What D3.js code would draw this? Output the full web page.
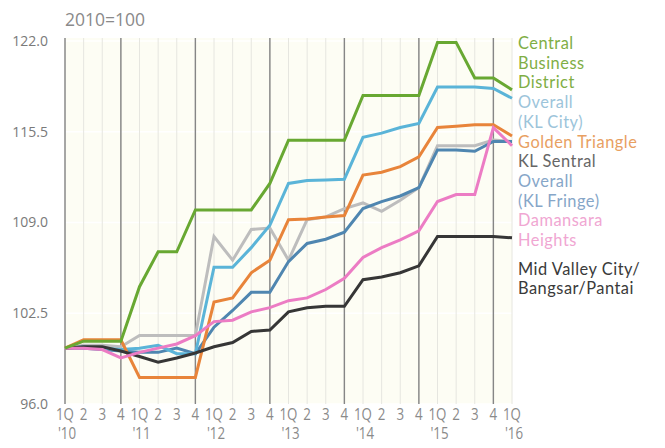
<!DOCTYPE html>
<html>
<head>
<meta charset="utf-8">
<script src="https://cdn.jsdelivr.net/npm/d3@7"></script>
<style>
  html, body { margin: 0; padding: 0; background: #fff; }
  svg { display: block; font-family: "Open Sans", "Noto Sans", sans-serif; }
</style>
</head>
<body>
<svg id="chart" width="665" height="448"></svg>
<script>
// Quarterly index, 2010 = 100, 1Q'10 to 1Q'16
const quarterLabels = ["1Q","2","3","4","1Q","2","3","4","1Q","2","3","4","1Q","2","3","4","1Q","2","3","4","1Q","2","3","4","1Q"];
const yearLabels = ["'10","'11","'12","'13","'14","'15","'16"];
const yTicks = [96.0, 102.5, 109.0, 115.5, 122.0];

const centralBusinessDistrict = [100,100.5,100.5,100.5,104.4,106.9,106.9,109.9,109.9,109.9,109.9,111.8,114.9,114.9,114.9,114.9,118.1,118.1,118.1,118.1,121.9,121.9,119.35,119.35,118.5];
const overallKLCity = [100,100.1,100.0,99.9,100.0,100.2,99.6,99.6,105.8,105.8,107.2,108.8,111.8,112.0,112.05,112.1,115.1,115.4,115.8,116.1,118.7,118.7,118.7,118.6,117.9];
const goldenTriangle = [100,100.6,100.6,100.6,97.9,97.9,97.9,97.9,103.3,103.6,105.4,106.3,109.2,109.25,109.4,109.5,112.4,112.6,113.0,113.7,115.8,115.9,116.0,116.0,115.2];
const klSentral = [100,100.2,100.2,100.1,100.9,100.9,100.9,100.9,108.0,106.3,108.5,108.6,106.3,109.2,109.4,110.0,110.4,109.8,110.6,111.5,114.5,114.5,114.5,114.9,114.8];
const overallKLFringe = [100,100.0,99.9,99.8,99.7,99.7,100.0,99.6,101.5,102.7,104.0,104.0,106.2,107.5,107.8,108.3,110.0,110.5,110.9,111.5,114.2,114.2,114.1,114.8,114.8];
const damansaraHeights = [100,100,99.9,99.3,99.7,100.0,100.3,100.9,101.9,102.0,102.6,102.9,103.4,103.6,104.2,105.0,106.5,107.2,107.75,108.4,110.5,111.0,111.0,115.8,114.5];
const midValley = [100,100.1,100.1,99.8,99.4,99.0,99.3,99.65,100.1,100.4,101.2,101.3,102.6,102.9,103.0,103.0,104.9,105.1,105.4,105.9,108.0,108.0,108.0,108.0,107.9];

// Series in drawing order (last drawn on top)
const series = [
  { values: klSentral,               line: "#bdbdbd" },
  { values: overallKLFringe,         line: "#4f86b0" },
  { values: overallKLCity,           line: "#5ab4d8" },
  { values: goldenTriangle,          line: "#e8843a" },
  { values: midValley,               line: "#363636" },
  { values: damansaraHeights,        line: "#ec7cc4" },
  { values: centralBusinessDistrict, line: "#68a832" }
];

// Legend entries, top to bottom
const legend = [
  { lines: ["Central", "Business", "District"], color: "#7fae45" },
  { lines: ["Overall", "(KL City)"],            color: "#9cc4da" },
  { lines: ["Golden Triangle"],                 color: "#e8a062" },
  { lines: ["KL Sentral"],                      color: "#666666" },
  { lines: ["Overall", "(KL Fringe)"],          color: "#86a6c8" },
  { lines: ["Damansara", "Heights"],            color: "#f0a6d2" },
  { lines: ["Mid Valley City/", "Bangsar/Pantai"], color: "#3a3a3a", gap: 9 }
];

const svg = d3.select("#chart");
const idx = d3.range(quarterLabels.length);

const x = d3.scaleLinear().domain([0, quarterLabels.length - 1]).range([65, 512]);
const y = d3.scaleLinear().domain([96, 122]).range([404, 41]);

// plot background
svg.append("rect")
  .attr("x", x(0)).attr("y", y(122) - 3)
  .attr("width", x(24) - x(0)).attr("height", y(96) - y(122) + 3)
  .attr("fill", "#fdfdf4");

// horizontal white grid at tick values
svg.append("g").selectAll("line").data(yTicks).join("line")
  .attr("x1", x(0)).attr("x2", x(24))
  .attr("y1", d => y(d)).attr("y2", d => y(d))
  .attr("stroke", "#ffffff").attr("stroke-width", 1.5);

// light quarter lines
svg.append("g").selectAll("line").data(idx).join("line")
  .attr("x1", d => x(d)).attr("x2", d => x(d))
  .attr("y1", y(122) - 3).attr("y2", y(96))
  .attr("stroke", "#e6e6e0").attr("stroke-width", 1);

// darker lines at the start and at every fourth quarter
const majors = idx.filter(i => i === 0 || (i % 4 === 3));
svg.append("g").selectAll("line").data(majors).join("line")
  .attr("x1", d => x(d)).attr("x2", d => x(d))
  .attr("y1", y(122) - 3).attr("y2", y(96))
  .attr("stroke", "#868686").attr("stroke-width", 1.4);

// y axis labels
const yAxis = d3.axisLeft(y).tickValues(yTicks).tickFormat(d3.format(".1f")).tickSize(0).tickPadding(17);
const gy = svg.append("g").attr("transform", `translate(${x(0)},0)`).call(yAxis);
gy.select(".domain").remove();
gy.selectAll("text").attr("fill", "#7a7a7a").attr("font-size", 14).attr("font-family", "Open Sans, sans-serif");

// x axis labels: quarter row and year row
const gx = svg.append("g");
gx.selectAll("text.q").data(idx).join("text")
  .attr("class", "q")
  .attr("transform", d => `translate(${x(d)},420) scale(0.86,1)`)
  .attr("text-anchor", "middle")
  .attr("font-size", 15.5).attr("fill", "#8a8a8a")
  .text(d => quarterLabels[d]);
gx.selectAll("text.yr").data(yearLabels).join("text")
  .attr("class", "yr")
  .attr("transform", (d, i) => `translate(${x(i * 4) + 2},439) scale(0.86,1)`)
  .attr("text-anchor", "middle")
  .attr("font-size", 15.5).attr("fill", "#8a8a8a")
  .text(d => d);

// title
svg.append("text").attr("x", 65).attr("y", 26)
  .attr("font-size", 17.5).attr("fill", "#8a8a8a").text("2010=100");

// series lines
const lineGen = d3.line().x((d, i) => x(i)).y(d => y(d)).curve(d3.curveLinear);
svg.append("g").selectAll("path").data(series).join("path")
  .attr("d", d => lineGen(d.values))
  .attr("fill", "none")
  .attr("stroke", d => d.line)
  .attr("stroke-width", 3)
  .attr("stroke-linejoin", "miter");

// legend
const lg = svg.append("g").attr("font-size", 16.4).attr("letter-spacing", 0.5)
  .attr("font-family", "Lato, 'Open Sans', sans-serif");
let ly = 49;
legend.forEach(item => {
  ly += item.gap || 0;
  item.lines.forEach(t => {
    lg.append("text").attr("x", 518).attr("y", ly).attr("fill", item.color).text(t);
    ly += 19.7;
  });
});
</script>
</body>
</html>
